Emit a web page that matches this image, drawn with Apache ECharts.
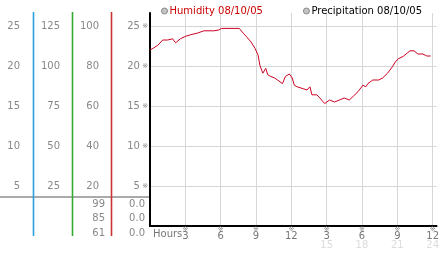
<!DOCTYPE html>
<html><head><meta charset="utf-8">
<script src="https://cdn.jsdelivr.net/npm/echarts@6/dist/echarts.min.js"></script>
<style>html,body{margin:0;padding:0;background:#fff}#c{width:442px;height:253px}</style>
</head><body><div id="c"></div>
<script>
const hours = [0,0.25,0.67,1.08,1.5,1.92,2.17,2.58,3.0,3.42,4.0,4.58,5.42,5.83,6.08,7.58,7.67,7.92,8.17,8.58,8.92,9.17,9.33,9.58,9.83,10.0,10.25,10.58,10.83,11.25,11.5,11.83,12.08,12.25,12.5,12.92,13.33,13.58,13.75,14.17,14.42,14.83,15.25,15.67,16.08,16.5,16.92,17.25,17.67,18.08,18.33,18.5,18.92,19.42,19.75,20.17,20.58,20.83,21.08,21.5,21.83,22.08,22.42,22.75,23.17,23.5,23.83];
const humidity = [22.0,22.2,22.6,23.25,23.25,23.4,22.9,23.4,23.7,23.9,24.1,24.4,24.4,24.5,24.7,24.7,24.5,24.1,23.7,23.0,22.2,21.4,20.1,19.1,19.7,18.9,18.7,18.5,18.25,17.8,18.7,19.0,18.5,17.6,17.4,17.2,17.0,17.4,16.4,16.4,16.0,15.3,15.75,15.5,15.75,16.0,15.75,16.2,16.8,17.6,17.4,17.8,18.25,18.25,18.5,19.1,19.9,20.5,20.9,21.2,21.6,21.9,21.9,21.5,21.5,21.25,21.25];
const precipitation = [];
const xTicks = [3,6,9,12,15,18,21,24];
const mainTicks = [5,10,15,20,25];
const col1Ticks = [5,10,15,20,25];
const col2Ticks = [25,50,75,100,125];
const col3Ticks = [20,40,60,80,100];
const tableLeft = ['99','85','61'];
const tableRight = ['0.0','0.0','0.0'];
const legendNames = ['Humidity 08/10/05','Precipitation 08/10/05'];

const FONT = 'DejaVu Sans';
const LBL = '#888';
const MAXY = 26.625;

function sideAxis(ticks, factor, offset) {
  return {
    type: 'value', position: 'left', offset: offset, min: 0, max: MAXY * factor, interval: 5 * factor,
    axisLine: {show: false}, axisTick: {show: false}, splitLine: {show: false},
    axisLabel: {margin: 0, color: LBL, fontFamily: FONT, fontSize: 10,
      formatter: v => ticks.indexOf(v) >= 0 ? String(v) : ''}
  };
}

const chart = echarts.init(document.getElementById('c'), null, {renderer: 'canvas'});
const g = [];
[['#2aa0dd',33.5],['#33aa33',72.5],['#cc3333',111.5]].forEach(([c,x]) => {
  g.push({type:'line', shape:{x1:x,y1:12,x2:x,y2:236}, style:{stroke:c, lineWidth:1.6}, z:5});
});
g.push({type:'line', shape:{x1:0,y1:197,x2:149,y2:197}, style:{stroke:'#aaa', lineWidth:2}, z:4});
tableLeft.forEach((t,i) => g.push({type:'text', x:105, y:204 + i*14.5, style:{text:t, fill:LBL, font:'10px "'+FONT+'"', align:'right', verticalAlign:'middle'}, z:6}));
tableRight.forEach((t,i) => g.push({type:'text', x:145, y:204 + i*14.5, style:{text:t, fill:LBL, font:'10px "'+FONT+'"', align:'right', verticalAlign:'middle'}, z:6}));
g.push({type:'text', x:153, y:234, style:{text:'Hours', fill:'#777', font:'10px "'+FONT+'"', align:'left', verticalAlign:'middle'}, z:6});

chart.setOption({
  animation: false,
  textStyle: {fontFamily: FONT},
  legend: {
    left: 156, top: 1, itemWidth: 6, itemHeight: 6, itemGap: 40, icon: 'circle',
    textStyle: {fontFamily: FONT, fontSize: 10, padding: [0,0,0,-3]},
    data: [
      {name: legendNames[0], itemStyle: {color: '#c4c4c4', borderColor: '#888', borderWidth: 1}, textStyle: {color: '#cc0000'}},
      {name: legendNames[1], itemStyle: {color: '#c4c4c4', borderColor: '#888', borderWidth: 1}, textStyle: {color: '#000'}}
    ],
    selectedMode: false
  },
  grid: {left: 150, top: 13, right: 0, bottom: 27, containLabel: false},
  xAxis: {
    type: 'value', min: 0, max: 24 + 1/3, interval: 3,
    axisLine: {show: true, lineStyle: {color: '#000', width: 2}},
    axisTick: {show: false},
    splitLine: {show: true, showMinLine: false, showMaxLine: false, lineStyle: {color: '#d6d6d6', width: 1}},
    axisLabel: {
      margin: 1, showMinLabel: false, showMaxLabel: true,
      formatter: v => {
        if (xTicks.indexOf(v) < 0) return '';
        if (v <= 12) return '{m|※}\n{a|' + v + '}';
        return '{m|※}\n{a|' + (v - 12) + '}\n{b|' + v + '}';
      },
      rich: {
        m: {fontSize: 7, lineHeight: 5, color: '#888', fontFamily: FONT},
        a: {fontSize: 10, lineHeight: 9, color: '#777', fontFamily: FONT},
        b: {fontSize: 10, lineHeight: 9, color: '#dcdcdc', fontFamily: FONT}
      }
    }
  },
  yAxis: [
    {
      type: 'value', min: 0, max: MAXY, interval: 5,
      axisLine: {show: true, lineStyle: {color: '#000', width: 2}},
      axisTick: {show: false},
      splitLine: {show: true, showMinLine: false, showMaxLine: false, lineStyle: {color: '#d6d6d6', width: 1}},
      axisLabel: {margin: 2, formatter: v => mainTicks.indexOf(v) >= 0 ? '{v|' + v + '}{m| ※}' : '',
        rich: {v: {fontSize: 10, color: LBL, fontFamily: FONT}, m: {fontSize: 7, color: '#888', fontFamily: FONT}}}
    },
    sideAxis(col3Ticks, 4, 51),
    sideAxis(col2Ticks, 5, 90),
    sideAxis(col1Ticks, 1, 130)
  ],
  series: [
    {name: legendNames[0], type: 'line', data: hours.map((h,i) => [h, humidity[i]]), showSymbol: false, symbol: 'none',
     lineStyle: {color: '#cc0022', width: 1}, itemStyle: {color: '#cc0022'}, yAxisIndex: 0},
    {name: legendNames[1], type: 'line', data: precipitation, showSymbol: false, lineStyle: {color: '#000', width: 1}, yAxisIndex: 0}
  ],
  graphic: g
});
</script></body></html>
